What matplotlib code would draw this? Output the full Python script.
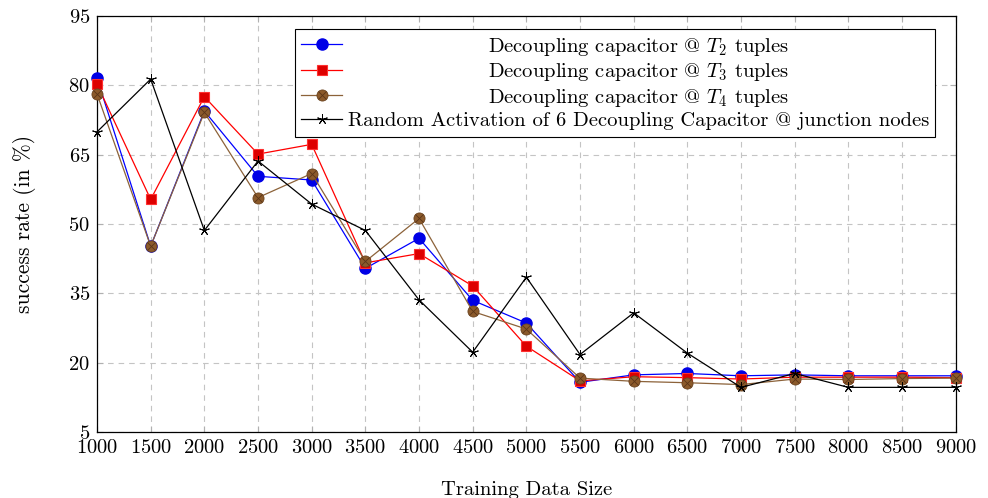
import matplotlib
matplotlib.use("Agg")
import matplotlib.pyplot as plt
from matplotlib.offsetbox import VPacker

plt.rcParams['font.family'] = 'serif'
plt.rcParams['font.serif'] = ['cmr10', 'DejaVu Serif']
plt.rcParams['mathtext.fontset'] = 'cm'
plt.rcParams['axes.formatter.use_mathtext'] = True
plt.rcParams['font.size'] = 14.8

# training data sizes
sizes = [1000, 1500, 2000, 2500, 3000, 3500, 4000, 4500, 5000,
         5500, 6000, 6500, 7000, 7500, 8000, 8500, 9000]

# success rate (%) per configuration
t2 = [81.5, 45.2, 74.4, 60.3, 59.5, 40.4, 46.9, 33.5, 28.6,
      15.8, 17.4, 17.7, 17.2, 17.4, 17.2, 17.2, 17.2]
t3 = [80.2, 55.3, 77.5, 65.1, 67.2, 41.6, 43.6, 36.6, 23.6,
      16.1, 17.0, 16.8, 16.5, 16.9, 16.9, 16.9, 16.8]
t4 = [78.1, 45.2, 74.1, 55.7, 60.9, 41.9, 51.2, 31.1, 27.3,
      16.7, 16.0, 15.7, 15.3, 16.5, 16.4, 16.6, 16.7]
rnd = [69.9, 81.3, 48.6, 63.6, 54.3, 48.6, 33.6, 22.3, 38.5,
       21.8, 30.8, 22.1, 14.7, 17.7, 14.7, 14.7, 14.7]

labels = [
    r"Decoupling capacitor @ $T_2$ tuples",
    r"Decoupling capacitor @ $T_3$ tuples",
    r"Decoupling capacitor @ $T_4$ tuples",
    "Random Activation of 6 Decoupling Capacitor @ junction nodes",
]

yticks = [5, 20, 35, 50, 65, 80, 95]

fig = plt.figure(figsize=(9.88, 4.98), dpi=100)
ax = fig.add_axes([0.0982, 0.132, 0.8691, 0.8365])

l1, = ax.plot(sizes, t2, color='#0000ff', lw=0.9, marker='o', ms=8,
              mfc='#0000e6', mec='#0000e6', clip_on=False, zorder=3)
l2, = ax.plot(sizes, t3, color='#ff0000', lw=0.9, marker='s', ms=7.5,
              mfc='#dd0000', mec='#ff3030', mew=0.8, clip_on=False, zorder=3)
l3, = ax.plot(sizes, t4, color='#8c6239', lw=0.9, marker='o', ms=8,
              mfc='#8b5a2b', mec='#6b4420', mew=0.6, clip_on=False, zorder=3)
# cross inside the brown circles
l3x, = ax.plot(sizes, t4, ls='none', marker='x', ms=5.2, mew=0.6,
               color='#5a3518', clip_on=False, zorder=3)
l4, = ax.plot(sizes, rnd, color='black', lw=0.9, marker=(5, 2, 0), ms=7.5,
              mew=0.7, clip_on=False, zorder=4)

ax.set_xlim(1000, 9000)
ax.set_ylim(5, 95)
ax.set_xticks(sizes)
ax.set_yticks(yticks)
ax.grid(True, color='#c4c4c4', lw=0.8, linestyle=(0, (5, 4.5)))
ax.set_axisbelow(True)
ax.tick_params(direction='in', length=4, color='#b0b0b0', top=True, right=True,
               labelsize=14.8, pad=5)
for sp in ax.spines.values():
    sp.set_linewidth(0.9)

ax.set_xlabel("Training Data Size", fontsize=14.8, labelpad=17)
ax.set_ylabel("success rate (in %)", fontsize=15.5, labelpad=23)

leg = ax.legend([l1, l2, (l3, l3x), l4], labels, loc='upper left',
                bbox_to_anchor=(0.2308, 0.967), borderaxespad=0,
                fancybox=False, framealpha=1, edgecolor='black',
                handlelength=2.0, handletextpad=0.25, labelspacing=0.17,
                borderpad=0.3, fontsize=14.8)
leg.get_frame().set_linewidth(0.8)

# center the entry texts inside the legend box
fig.canvas.draw()
r = fig.canvas.get_renderer()
w = max(t.get_window_extent(r).width for t in leg.get_texts())
for col in leg._legend_handle_box.get_children():
    for row in col.get_children():
        h, t = row.get_children()
        row._children = [h, VPacker(children=[t], align='center', width=w,
                                    pad=0, sep=0)]

fig.savefig("out.png", dpi=100)
